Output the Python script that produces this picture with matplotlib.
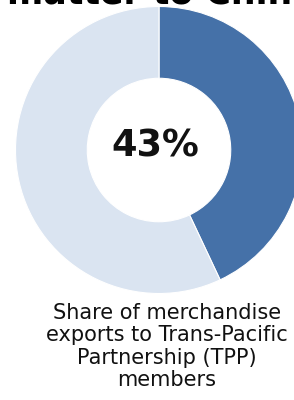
import matplotlib.pyplot as plt

# === Dados ===
labels = ["TPP members", "Others"]
shares = [43, 57]
colors = ["#4571A8", "#DAE4F1"]
center_label = "43%"
caption = "Share of merchandise\nexports to Trans-Pacific\nPartnership (TPP)\nmembers"
title = "matter to China"

W, H = 294, 400
fig = plt.figure(figsize=(W / 100, H / 100), dpi=100)

# === Donut (centro ~ (159,150) px, raio ~143 px) ===
cx, cy, r = 159, 150, 143.5
ax = fig.add_axes([(cx - r) / W, (H - cy - r) / H, 2 * r / W, 2 * r / H])
ax.pie(shares, colors=colors, startangle=90, counterclock=False,
       radius=1.0, wedgeprops=dict(width=0.5, edgecolor="white", linewidth=0.8))
ax.set_xlim(-1, 1)
ax.set_ylim(-1, 1)
ax.set_aspect("equal")
ax.axis("off")
ax.text(-4 / r, 4 / r, center_label, ha="center", va="center",
        fontsize=26.5, fontweight="bold", color="#111111")

# === Titulo cortado no topo (so a base das letras aparece) ===
fig.text(7 / W, 1 - 4 / H, title, ha="left", va="baseline",
         fontsize=25, fontweight="bold", color="black")

# === Legenda inferior ===
fig.text(167 / W, 1 - 303 / H, caption, ha="center", va="top",
         fontsize=15, color="#111111", linespacing=1.15)

fig.savefig("out.png", dpi=100)
